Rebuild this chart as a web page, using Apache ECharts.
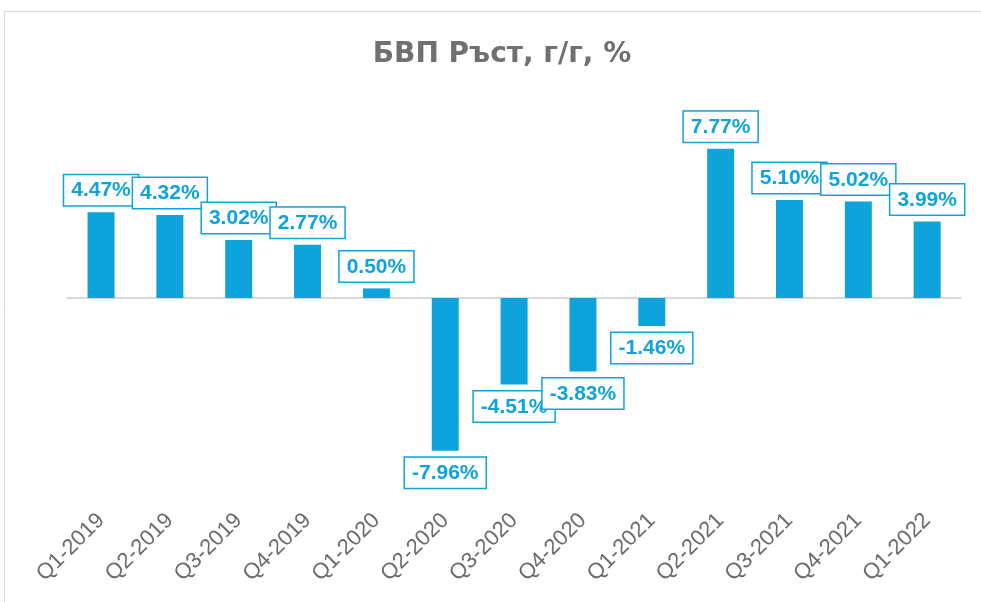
<!DOCTYPE html>
<html>
<head>
<meta charset="utf-8">
<script src="https://cdn.jsdelivr.net/npm/echarts@6/dist/echarts.min.js"></script>
<style>html,body{margin:0;padding:0;background:#fff}#c{width:981px;height:602px}</style>
</head>
<body>
<div id="c"></div>
<script>
var titleText = 'БВП Ръст, г/г, %';
var categories = ['Q1-2019','Q2-2019','Q3-2019','Q4-2019','Q1-2020','Q2-2020','Q3-2020','Q4-2020','Q1-2021','Q2-2021','Q3-2021','Q4-2021','Q1-2022'];
var growth = [4.47, 4.32, 3.02, 2.77, 0.50, -7.96, -4.51, -3.83, -1.46, 7.77, 5.10, 5.02, 3.99];

var BLUE = '#0FA3DB';
var chart = echarts.init(document.getElementById('c'), null, {renderer: 'canvas'});
var data = growth.map(function (v) {
  return {value: v, label: {position: v >= 0 ? 'top' : 'bottom'}};
});
chart.setOption({
  animation: false,
  backgroundColor: '#fff',
  title: {
    text: titleText,
    left: 497, top: 36, textAlign: 'center',
    textStyle: {fontFamily: 'DejaVu Sans, Liberation Sans, Arial, sans-serif', fontWeight: 'bold', fontSize: 28, color: '#707070'}
  },
  graphic: [{
    type: 'rect', silent: true, z: -1,
    shape: {x: 4.5, y: 11.5, width: 1000, height: 620},
    style: {fill: 'none', stroke: '#D9D9D9', lineWidth: 1}
  }],
  grid: {left: 66.6, right: 19.4, top: 106, bottom: 112, containLabel: false},
  xAxis: {
    type: 'category', data: categories,
    axisLine: {show: false}, axisTick: {show: false},
    axisLabel: {rotate: 45, interval: 0, margin: 27, fontSize: 22, color: '#6B6B6B', fontFamily: 'Liberation Sans, Arial, sans-serif'}
  },
  yAxis: {
    type: 'value', min: -10, max: 10, interval: 5, show: false, splitLine: {show: false}
  },
  series: [{
    type: 'bar', data: data, barWidth: 27,
    itemStyle: {color: BLUE},
    label: {
      show: true, distance: 7,
      formatter: function (p) { return p.value.toFixed(2) + '%'; },
      fontFamily: 'Liberation Sans, Arial, sans-serif', fontWeight: 'bold', fontSize: 21, color: BLUE,
      backgroundColor: '#fff', borderColor: BLUE, borderWidth: 1.5, padding: [5, 7, 4, 7]
    },
    markLine: {
      silent: true, symbol: 'none', label: {show: false}, z: 1,
      lineStyle: {color: '#D9D9D9', width: 2, type: 'solid'},
      data: [{yAxis: 0}]
    }
  }]
});
</script>
</body>
</html>
